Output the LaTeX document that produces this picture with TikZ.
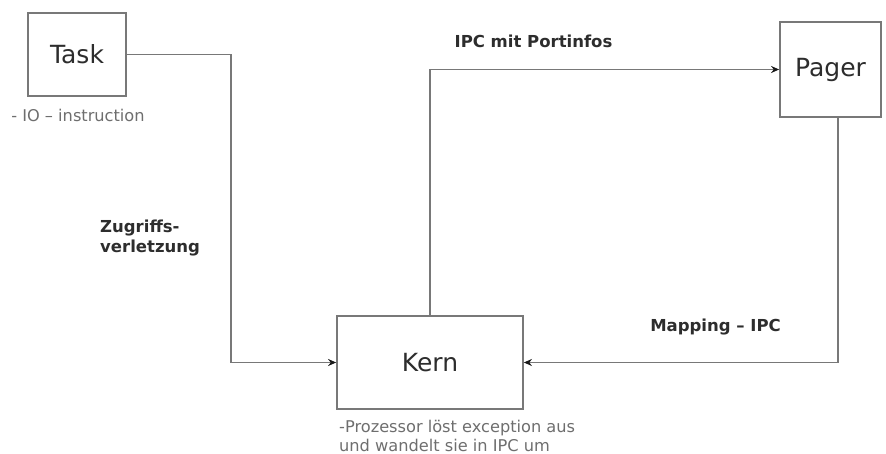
\documentclass[tikz,border=0pt]{standalone}
\usepackage{fontspec}
\setmainfont{DejaVu Sans}
\usetikzlibrary{arrows.meta}
\definecolor{linegray}{RGB}{120,120,120}
\definecolor{textgray}{RGB}{45,45,45}
\definecolor{notegray}{RGB}{110,110,110}
\definecolor{tipdark}{RGB}{25,25,25}
\tikzstyle{box} = [rectangle, draw=linegray, line width=1.8pt, fill=white, inner sep=0pt, text=textgray, font=\fontsize{25}{28}\selectfont]
\tikzstyle{label} = [font=\bfseries\fontsize{16.5}{20.5}\selectfont, text=textgray, inner sep=0pt]
\tikzstyle{note} = [font=\fontsize{16.2}{18.5}\selectfont, text=notegray, inner sep=0pt, align=left]
\tikzstyle{arrow} = [draw=linegray, line width=1.8pt, -{Stealth[length=8pt, width=7pt, color=tipdark]}]

\begin{document}
\begin{tikzpicture}[x=1pt, y=-1pt]
					\useasboundingbox (0,0) rectangle (886,454);
					\node[box, minimum width=98pt, minimum height=83pt] (task) at (77,54.5) {Task};
					\node[box, minimum width=186pt, minimum height=93pt] (kern) at (430,362.5) {Kern};
					\node[box, minimum width=101pt, minimum height=95pt] (pager) at (830.5,69.5) {Pager};
					\node[note] (tasknote) at (78,115) {- IO – instruction};
					\node[note, anchor=west] (kernnote) at (339,436) {-Prozessor löst exception aus\\ und wandelt sie in IPC um};
					\node[label] (portinfos) at (533.5,41) {IPC mit Portinfos};
					\node[label, align=left, anchor=west] (zugriff) at (100,238) {Zugriffs-\\verletzung};
					\node[label] (mapping) at (715.5,327) {Mapping – IPC};
					\coordinate (turn) at (231,54.5);
					\draw[arrow] (task.east) -- (turn) |- (kern.west);
					\draw[arrow] (kern.north) |- (pager.west);
					\draw[arrow] ([xshift=7.5pt]pager.south) |- (kern.east);
					\end{tikzpicture}
\end{document}
